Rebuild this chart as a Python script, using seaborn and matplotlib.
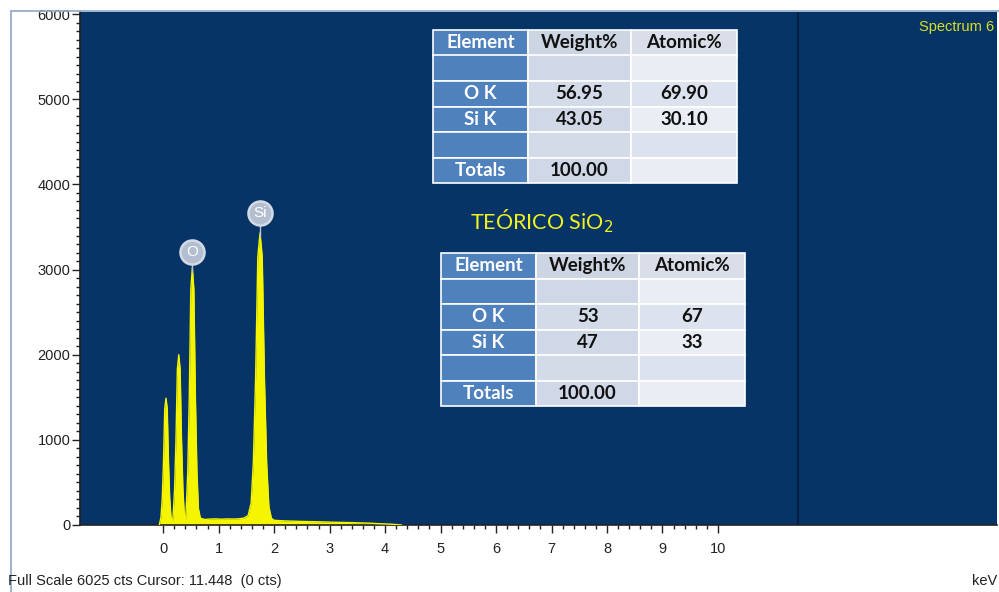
import matplotlib
matplotlib.use("Agg")
import matplotlib.pyplot as plt
import seaborn as sns
import pandas as pd
from matplotlib.patches import Rectangle
from matplotlib.ticker import FixedLocator

# spectrum (keV, counts)
energy = [-0.07, -0.04, -0.0175, 0.005, 0.0275, 0.05, 0.0725, 0.095, 0.1175, 0.14, 0.165,
          0.18, 0.205, 0.23, 0.255, 0.28, 0.305, 0.33, 0.355, 0.38, 0.40,
          0.415, 0.4425, 0.47, 0.4975, 0.525, 0.5525, 0.58, 0.6075, 0.635, 0.67,
          0.75, 0.85, 0.95, 1.05, 1.15, 1.25, 1.35, 1.45, 1.53,
          1.585, 1.625, 1.665, 1.705, 1.745, 1.785, 1.825, 1.865, 1.905, 1.95,
          2.00, 2.20, 2.50, 2.80, 3.10, 3.40, 3.70, 3.90, 4.10, 4.30]
counts = [0, 95, 310, 745, 1365, 1490, 1365, 745, 310, 95, 20,
          125, 420, 1000, 1830, 2000, 1830, 1000, 420, 125, 35,
          190, 630, 1510, 2770, 3020, 2770, 1510, 630, 190, 80,
          65, 70, 72, 68, 72, 70, 72, 80, 110,
          260, 740, 1715, 3150, 3430, 3150, 1715, 720, 215, 80,
          55, 48, 42, 38, 32, 28, 22, 15, 10, 0]

peak_labels = ["O", "Si"]
peak_keV = [0.525, 1.745]
peak_counts = [3020, 3430]

cursor_keV = 11.448
full_scale = 6025

table_cols = ["Element", "Weight%", "Atomic%"]
measured_rows = [["", "", ""], ["O K", "56.95", "69.90"], ["Si K", "43.05", "30.10"],
                 ["", "", ""], ["Totals", "100.00", ""]]
theory_rows = [["", "", ""], ["O K", "53", "67"], ["Si K", "47", "33"],
               ["", "", ""], ["Totals", "100.00", ""]]

BG = "#063466"
YEL = "#F5F500"

sns.set_theme(style="white")
plt.rcParams["font.family"] = ["Liberation Sans", "DejaVu Sans"]

fig = plt.figure(figsize=(9.99, 5.92), dpi=100)
fig.patch.set_facecolor("white")
ax = fig.add_axes([80 / 999, 67 / 592, 917 / 999, 513 / 592])
ax.set_facecolor(BG)

df = pd.DataFrame({"keV": energy, "cts": counts})
ax.fill_between(df["keV"], 0, df["cts"], color=YEL, lw=0, zorder=2)
sns.lineplot(data=df, x="keV", y="cts", ax=ax, color=YEL, lw=1.0, zorder=3)

ax.axvline(cursor_keV, color="#021c3c", lw=1.2, zorder=1)

ax.set_xlim(-1.5, 15.03)
ax.set_ylim(0, full_scale)
ax.set_xlabel("")
ax.set_ylabel("")

ax.set_xticks(range(0, 11))
ax.xaxis.set_minor_locator(FixedLocator([i / 5 for i in range(0, 51)]))
ax.set_yticks(range(0, 6001, 1000))
ax.yaxis.set_minor_locator(FixedLocator(list(range(0, 6001, 100))))
ax.tick_params(axis="both", which="major", direction="out", length=6, width=1,
               color="#222222", labelsize=10.5, labelcolor="#222222")
ax.tick_params(axis="both", which="minor", direction="out", length=3, width=1,
               color="#222222")
ax.tick_params(axis="x", which="both", bottom=True, pad=6)
ax.tick_params(axis="y", which="both", left=True, pad=1)

for s in ["top", "right"]:
    ax.spines[s].set_visible(False)
ax.spines["left"].set_color("#222222")
ax.spines["bottom"].set_color("#222222")
ax.spines["bottom"].set_linewidth(1.2)

# element markers
for lab, xk, yk, off in zip(peak_labels, peak_keV, peak_counts, [190, 240]):
    ax.plot([xk, xk], [yk - 50, yk + off], color="#b8c4d6", lw=1, zorder=4)
    ax.scatter([xk], [yk + off], s=300, color="#b3bfd1", edgecolor="#d5dbe5",
               lw=1.8, zorder=5)
    ax.text(xk, yk + off, lab, color="white", ha="center", va="center",
            fontsize=11, zorder=6)


def draw_table(x0, y0, rows):
    # x0, y0 = top-left in figure pixels
    widths = [95, 103, 106]
    h = 25.5
    all_rows = [table_cols] + rows
    for r, row in enumerate(all_rows):
        cx = x0
        for c, txt in enumerate(row):
            if c == 0:
                fc = "#4F81BD"
                tc = "white"
            else:
                if r == 0:
                    fc = "#CDD4E2" if c == 1 else "#D9DEE9"
                elif r % 2 == 1:
                    fc = "#D0D8E8" if c == 1 else "#E9EDF4"
                else:
                    fc = "#D3DAE8" if c == 1 else "#DDE3EE"
                tc = "#111111"
            yb = 592 - y0 - (r + 1) * h
            fig.patches.append(Rectangle((cx / 999, yb / 592), widths[c] / 999, h / 592,
                                         transform=fig.transFigure, facecolor=fc,
                                         edgecolor="white", lw=1.2, zorder=10))
            if txt:
                fig.text((cx + widths[c] / 2) / 999, (yb + h / 2) / 592, txt,
                         ha="center", va="center", color=tc, fontsize=13.5,
                         fontweight="bold", family=["Lato", "DejaVu Sans"], zorder=11)
            cx += widths[c]


draw_table(433, 30, measured_rows)
draw_table(441, 253, theory_rows)

fig.text(470 / 999, (592 - 221) / 592, "TEÓRICO SiO$_2$", color="#F2F21E",
         fontsize=15.5, ha="left", va="center", family=["Lato", "DejaVu Sans"])
fig.text(994 / 999, (592 - 27) / 592, "Spectrum 6", color="#D8E020",
         fontsize=10.5, ha="right", va="center")
fig.text(8 / 999, (592 - 581) / 592, "Full Scale 6025 cts Cursor: 11.448  (0 cts)",
         color="#222222", fontsize=10.5, ha="left", va="center")
fig.text(997 / 999, (592 - 581) / 592, "keV", color="#222222",
         fontsize=10.5, ha="right", va="center")

# frame lines at top and left of the window
fig.add_artist(plt.Line2D([11 / 999, 11 / 999], [0, 581 / 592], color="#8fa6c8", lw=1.2))
fig.add_artist(plt.Line2D([11 / 999, 1], [581 / 592, 581 / 592], color="#8fa6c8", lw=1.2))

fig.savefig("out.png", dpi=100)
